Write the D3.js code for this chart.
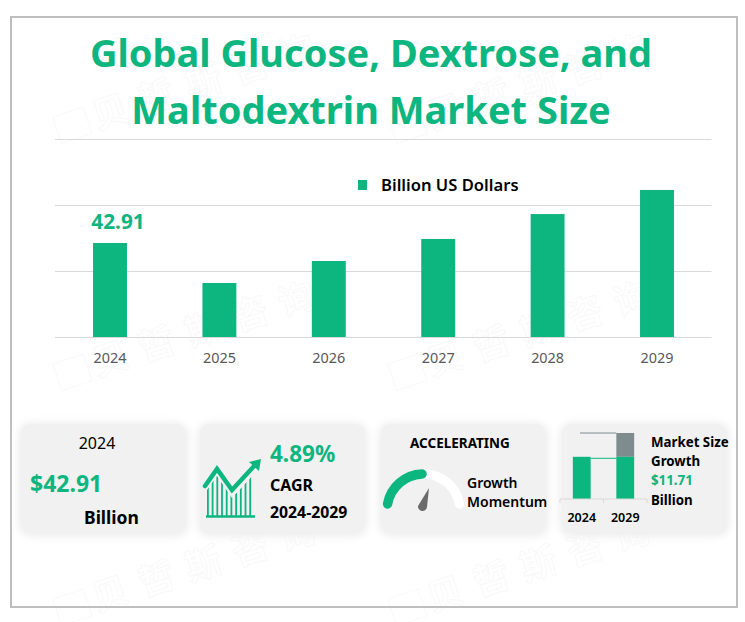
<!DOCTYPE html>
<html>
<head>
<meta charset="utf-8">
<script src="https://cdn.jsdelivr.net/npm/d3@7"></script>
<style>
html,body{margin:0;padding:0;background:#fff;}
svg{display:block;}
text{font-family:"Noto Sans",sans-serif;}
</style>
</head>
<body>
<div id="chart"></div>
<script>
// chart values
const years = ["2024","2025","2026","2027","2028","2029"];
const marketSize = [42.91,34.07,38.93,43.8,49.3,54.62];
const gridTicks = [22.14,36.72,51.3,65.88];
const titleLines = ["Global Glucose, Dextrose, and","Maltodextrin Market Size"];
const legendLabel = "Billion US Dollars";
const miniYears = ["2024","2029"];
const miniBase = [42.91,42.91];
const miniGrowth = [0,11.71];
const watermark = "贝哲斯咨询";

const green = "#0db57f", grey = "#7f8c8d";
const width = 745, height = 622;

const svg = d3.select("#chart").append("svg")
  .attr("width",width).attr("height",height);

const defs = svg.append("defs");
const blur = defs.append("filter").attr("id","soft")
  .attr("x","-15%").attr("y","-15%").attr("width","130%").attr("height","130%");
blur.append("feGaussianBlur").attr("stdDeviation",4);

// watermark
[97,432].forEach(x=>{
  [130,377,612].forEach(y=>{
    const g = svg.append("g").attr("transform",`translate(${x},${y}) rotate(-18)`)
      .attr("fill","#fff").attr("stroke","#f9f9f9").attr("stroke-width",1);
    g.append("rect").attr("x",-38).attr("y",-26).attr("width",32).attr("height",28);
    g.append("text").text(watermark)
      .style("font-family",'"Noto Sans CJK SC"')
      .attr("font-size",36).attr("font-weight",700).attr("letter-spacing",13);
  });
});

// frame
svg.append("rect").attr("x",11).attr("y",17).attr("width",726).attr("height",590)
  .attr("fill","none").attr("stroke","#bfbfbf").attr("stroke-width",2);

// title
svg.append("g").selectAll("text").data(titleLines).join("text")
  .attr("x",371).attr("y",(d,i)=>67+i*56.5)
  .attr("text-anchor","middle").attr("font-size",38).attr("font-weight",700)
  .attr("fill",green).text(d=>d);

// main bars
const x = d3.scaleBand().domain(years).range([55.3,711.7]).paddingInner(0.69).paddingOuter(0.345);
const y = d3.scaleLinear().domain([22.14,65.88]).range([337,139]);

const gridAxis = svg.append("g").attr("transform","translate(55,0)")
  .call(d3.axisLeft(y).tickValues(gridTicks).tickSize(-656.5).tickFormat(""));
gridAxis.select(".domain").remove();
gridAxis.selectAll("line").attr("stroke","#d9d9d9").attr("stroke-width",1);

svg.append("g").selectAll("rect").data(marketSize).join("rect")
  .attr("x",(d,i)=>x(years[i]))
  .attr("y",d=>y(d))
  .attr("width",x.bandwidth())
  .attr("height",d=>y.range()[0]-y(d))
  .attr("fill",green);

const xAxis = svg.append("g").attr("transform","translate(0,337)")
  .call(d3.axisBottom(x).tickSize(0).tickPadding(16));
xAxis.select(".domain").remove();
xAxis.selectAll("text").attr("font-size",14.4).attr("fill","#595959")
  .style("font-family",'"Noto Sans",sans-serif');

svg.append("text").attr("x",118).attr("y",229).attr("text-anchor","middle")
  .attr("font-size",20.8).attr("font-weight",700).attr("fill",green).text(marketSize[0]);

// legend
svg.append("rect").attr("x",358).attr("y",180).attr("width",9).attr("height",10).attr("fill",green);
svg.append("text").attr("x",381).attr("y",191).attr("font-size",16.6).attr("font-weight",600)
  .attr("fill","#000").text(legendLabel);

// cards
const cards = [21,200,381,562];
const cardW = 165, cardY = 424, cardH = 109;
svg.append("g").selectAll("rect").data(cards).join("rect")
  .attr("x",d=>d-2).attr("y",cardY-1).attr("width",cardW+4).attr("height",cardH+4)
  .attr("rx",12).attr("fill","#ececec").attr("filter","url(#soft)");
svg.append("g").selectAll("rect").data(cards).join("rect")
  .attr("x",d=>d).attr("y",cardY).attr("width",cardW).attr("height",cardH)
  .attr("rx",10).attr("fill","#f1f1f1");

function label(px,py,txt,size,weight,color,anchor){
  svg.append("text").attr("x",px).attr("y",py).attr("font-size",size)
    .attr("font-weight",weight).attr("fill",color||"#000")
    .attr("text-anchor",anchor||"start").text(txt);
}

// card 1
label(97,449,"2024",16,400,"#000","middle");
label(30,492,"$42.91",23,700,green);
label(84,524,"Billion",17.5,700);

// card 2
label(270,462,"4.89%",22.5,700,green);
label(270,491,"CAGR",16,700);
label(270,518,"2024-2029",15.8,700);

const clip = defs.append("clipPath").attr("id","iconClip");
clip.append("path").attr("d","M207,516V490L217,476L232,498L254,474V516Z");
svg.append("g").attr("clip-path","url(#iconClip)").selectAll("rect")
  .data(d3.range(207,256,4.7)).join("rect")
  .attr("x",d=>d).attr("y",470).attr("width",1.8).attr("height",47).attr("fill",green);
svg.append("path").attr("d","M206,516.5H255").attr("stroke",green).attr("stroke-width",2.5);
svg.append("path").attr("d","M205,486L217,469L232,490L256,464")
  .attr("fill","none").attr("stroke",green).attr("stroke-width",4.5)
  .attr("stroke-linecap","round").attr("stroke-linejoin","miter");
svg.append("path").attr("d","M261,459L259,471L249,462Z").attr("fill",green);

// card 3
label(410,448,"ACCELERATING",13.5,700);
label(467,488,"Growth",14,600);
label(467,507,"Momentum",14,600);

function gaugePath(a0,a1){
  const p = d3.path();
  p.arc(423.5,510.5,36.5,a0,a1);
  return p.toString();
}
const gaugeG = svg.append("g")
  .attr("fill","none").attr("stroke-width",9.5).attr("stroke-linecap","round");
gaugeG.append("path").attr("d",gaugePath(-Math.PI+0.18,-0.18)).attr("stroke","#fff");
gaugeG.append("path").attr("d",gaugePath(-Math.PI+0.18,-Math.PI/2-0.04)).attr("stroke",green);
svg.append("path").attr("d","M418,506L429,488L427,507A4.5,4.5 0 0 1 418,506Z").attr("fill","#6b6b6b");

// card 4
const mx = d3.scaleBand().domain(miniYears).range([560,647]).paddingInner(0.59).paddingOuter(0.295);
const my = d3.scaleLinear().domain([22.14,54.62]).range([499,433]);
svg.append("g").selectAll("rect").data(miniGrowth).join("rect")
  .attr("x",(d,i)=>mx(miniYears[i])).attr("width",mx.bandwidth())
  .attr("y",(d,i)=>my(miniBase[i]+d))
  .attr("height",(d,i)=>my(miniBase[i])-my(miniBase[i]+d))
  .attr("fill",grey);
svg.append("g").selectAll("rect").data(miniBase).join("rect")
  .attr("x",(d,i)=>mx(miniYears[i])).attr("width",mx.bandwidth())
  .attr("y",d=>my(d)).attr("height",d=>my.range()[0]-my(d))
  .attr("fill",green);
const barEnd = mx(miniYears[0])+mx.bandwidth(), barStart = mx(miniYears[1]);
svg.append("line").attr("x1",barEnd).attr("x2",barStart)
  .attr("y1",my(miniBase[0])+1.5).attr("y2",my(miniBase[0])+1.5)
  .attr("stroke",green).attr("stroke-width",1);
svg.append("line").attr("x1",580).attr("x2",barStart)
  .attr("y1",433).attr("y2",433).attr("stroke",grey).attr("stroke-width",1);

const miniAxis = svg.append("g").attr("transform","translate(0,499)")
  .call(d3.axisBottom(mx).tickSize(0).tickPadding(14.5));
miniAxis.select(".domain").attr("stroke","#d9d9d9").attr("d","M560,4V0H647V4");
miniAxis.selectAll("text").attr("font-size",12.5).attr("font-weight",600).attr("fill","#000")
  .style("font-family",'"Noto Sans",sans-serif');
svg.append("line").attr("x1",603.5).attr("x2",603.5).attr("y1",499).attr("y2",503).attr("stroke","#d9d9d9");

label(651,447,"Market Size",13.3,700);
label(651,466,"Growth",13.3,700);
label(651,485,"$11.71",13.3,700,green);
label(651,505,"Billion",13.3,700);
</script>
</body>
</html>
